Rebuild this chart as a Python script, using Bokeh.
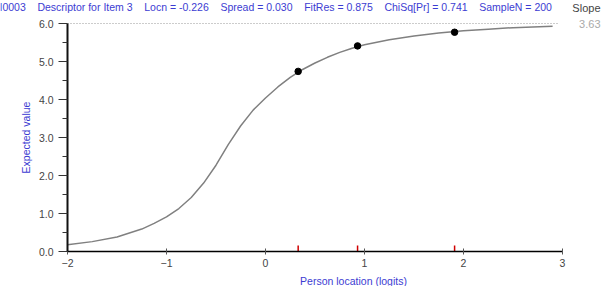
import math
from bokeh.plotting import figure
from bokeh.models import Range1d, FixedTicker, Label, PrintfTickFormatter
from bokeh.embed import file_html
from bokeh.resources import INLINE

# ---- data ----
curve_x = [-2, -1.75, -1.5, -1.25, -1.125, -1, -0.875, -0.75, -0.625, -0.5, -0.375, -0.25, -0.125,
           0, 0.125, 0.25, 0.375, 0.5, 0.625, 0.75, 0.875, 1, 1.25, 1.5, 1.75, 2, 2.25, 2.5, 2.9]
curve_y = [0.18, 0.26, 0.38, 0.59, 0.74, 0.91, 1.13, 1.42, 1.8, 2.27, 2.82, 3.31, 3.72,
           4.04, 4.33, 4.58, 4.79, 4.96, 5.11, 5.24, 5.35, 5.44, 5.57, 5.67, 5.75, 5.81, 5.85, 5.89, 5.93]
obs_x = [0.33, 0.93, 1.91]
obs_y = [4.74, 5.41, 5.77]
max_score = 6.0
x_ticks = [-2, -1, 0, 1, 2, 3]
x_tick_labels = ["\u22122", "\u22121", "0", "1", "2", "3"]
y_ticks = [0, 1, 2, 3, 4, 5, 6]
title_fields = ["I0003", "Descriptor for Item 3", "Locn = -0.226", "Spread = 0.030",
                "FitRes = 0.875", "ChiSq[Pr] = 0.741", "SampleN = 200"]
slope_label = "Slope"
slope_value = "3.63"
x_title = "Person location (logits)"
y_title = "Expected value"

FONT = "Liberation Sans"
BLUE = "#3c3cd2"
W, H = 602, 286
PX_X, PX_Y = 99.0, 38.0          # pixels per data unit
LEFT, BOTTOM = 67, 251           # pixel position of (x=-2, y=0)

xr = Range1d(x_ticks[0] - LEFT / PX_X, x_ticks[0] + (W - LEFT) / PX_X)
yr = Range1d(-(H - BOTTOM) / PX_Y, BOTTOM / PX_Y)

p = figure(width=W, height=H, output_backend="svg", toolbar_location=None,
           x_range=xr, y_range=yr,
           min_border_left=0, min_border_right=0, min_border_top=0, min_border_bottom=0)
p.outline_line_color = None
p.grid.visible = False
p.background_fill_color = "white"
p.border_fill_color = "white"

# dotted maximum line
p.line([x_ticks[0], x_ticks[-1] - 0.03], [max_score, max_score], line_color="#999999",
       line_dash="1 2", line_width=1)
# curve
p.line(curve_x, curve_y, line_color="#808080", line_width=1.5, line_join="round")
# observed points
p.scatter(obs_x, obs_y, size=6.5, color="black")
# red location ticks
tick_h = 6 / PX_Y
p.segment(x0=obs_x, y0=[0] * len(obs_x), x1=obs_x, y1=[tick_h] * len(obs_x),
          line_color="#d00000", line_width=1.5)

# axes (fixed in place inside the full-canvas frame)
xa = p.xaxis[0]
xa.fixed_location = 0
xa.bounds = (x_ticks[0], x_ticks[-1])
xa.ticker = FixedTicker(ticks=x_ticks)
xa.major_label_overrides = {t: l for t, l in zip(x_ticks, x_tick_labels)}
xa.major_tick_in = 3
xa.major_tick_out = 3
xa.major_tick_line_color = "#555555"
xa.minor_tick_line_color = None
xa.axis_line_color = "black"
xa.axis_line_width = 1.3
xa.major_label_text_font = FONT
xa.major_label_text_font_size = "10.5px"
xa.major_label_text_color = "#444444"
xa.major_label_standoff = 4

ya = p.yaxis[0]
ya.fixed_location = x_ticks[0]
ya.bounds = (y_ticks[0], y_ticks[-1])
ya.ticker = FixedTicker(ticks=y_ticks, minor_ticks=[v + 0.5 for v in y_ticks[:-1]])
ya.formatter = PrintfTickFormatter(format="%.1f")
ya.major_tick_in = 0
ya.major_tick_out = 9
ya.minor_tick_in = 0
ya.minor_tick_out = 5
ya.major_tick_line_color = "#333333"
ya.minor_tick_line_color = "#333333"
ya.axis_line_color = "#111111"
ya.axis_line_width = 2
ya.major_label_text_font = FONT
ya.major_label_text_font_size = "10.5px"
ya.major_label_text_color = "#444444"
ya.major_label_standoff = 5

# axis titles
p.add_layout(Label(x=0, y=0, x_offset=88, y_offset=-29, text=x_title,
                   text_font=FONT, text_font_size="10.5px", text_color=BLUE,
                   text_align="center", text_baseline="middle"))
p.add_layout(Label(x=x_ticks[0], y=max_score / 2, x_offset=-42, text=y_title, angle=math.pi / 2,
                   text_font=FONT, text_font_size="10.5px", text_color=BLUE,
                   text_align="center", text_baseline="middle"))

# title line along the top
gap = "\u00a0" * 4
title_text = gap.join(title_fields)
p.add_layout(Label(x=x_ticks[0], y=max_score, x_offset=-LEFT - 1, y_offset=17, text=title_text,
                   text_font=FONT, text_font_size="10.5px", text_color=BLUE,
                   text_baseline="middle", text_align="left"))

# slope annotation on the right
p.add_layout(Label(x=x_ticks[-1], y=max_score, x_offset=38, y_offset=16, text=slope_label,
                   text_font=FONT, text_font_size="11px", text_color="#444444",
                   text_baseline="middle", text_align="right"))
p.add_layout(Label(x=x_ticks[-1], y=max_score, x_offset=38, y_offset=0, text=slope_value,
                   text_font=FONT, text_font_size="11px", text_color="#aaaaaa",
                   text_baseline="middle", text_align="right"))

open("out.html", "w").write(file_html(p, INLINE))
